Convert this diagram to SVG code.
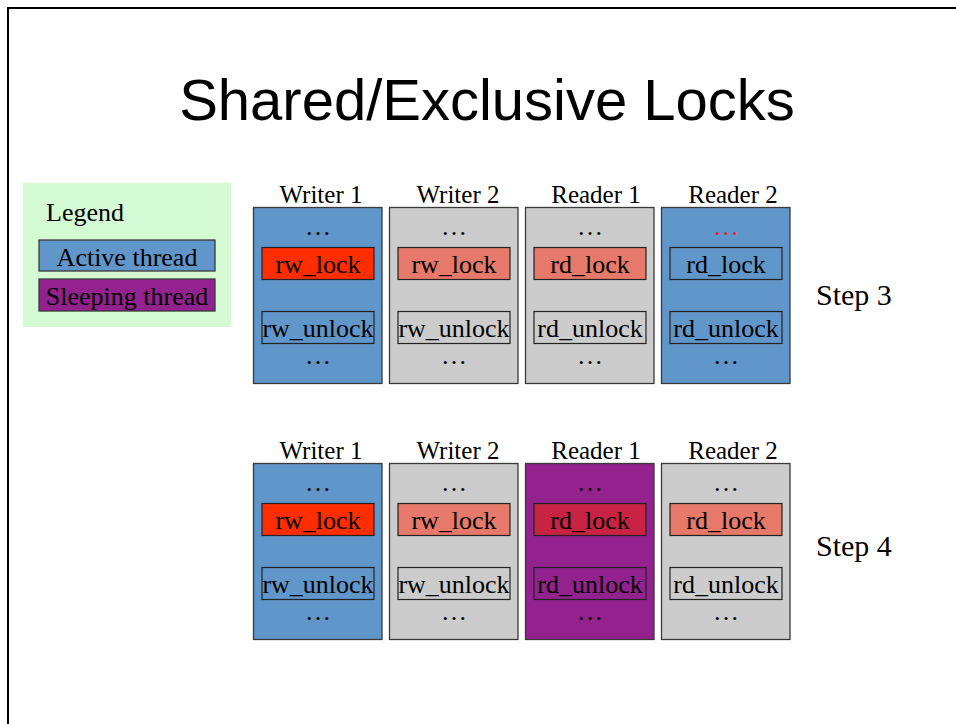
<svg xmlns="http://www.w3.org/2000/svg" width="956" height="724" viewBox="0 0 956 724">
  <style>
    .serif { font-family: "Liberation Serif", "Times New Roman", serif; fill: #000; }
    .title { font-family: "Liberation Sans", Arial, sans-serif; font-size: 58px; fill: #000; }
    .lbl { font-size: 25px; text-anchor: middle; }
    .code { font-size: 26px; text-anchor: middle; }
    .step { font-size: 30px; }
    .leg { font-size: 26px; }
    .thread { stroke: #3a3a3a; stroke-width: 1.3; }
    .call { stroke: #222; stroke-width: 1.2; }
    .active { fill: #6096c9; }
    .idle { fill: #cccccc; }
    .sleep { fill: #93228e; }
    .held { fill: #ff2d00; }
    .wait { fill: #e6796a; }
    .blocked { fill: #c82343; }
    .none { fill: none; }
  </style>

  <rect width="956" height="724" fill="#fff"/>
  <!-- slide frame -->
  <rect x="8" y="8" width="960" height="730" fill="none" stroke="#000" stroke-width="2"/>

  <text class="title" x="487" y="120" text-anchor="middle">Shared/Exclusive Locks</text>

  <!-- legend -->
  <g id="legend">
    <rect x="23" y="183" width="208" height="144" fill="#d4fad4"/>
    <text class="serif leg" x="46" y="221">Legend</text>
    <rect class="thread active" x="39" y="240" width="176" height="31"/>
    <text class="serif leg" x="127" y="266" text-anchor="middle">Active thread</text>
    <rect class="thread sleep" x="39" y="279" width="176" height="32"/>
    <text class="serif leg" x="127" y="305" text-anchor="middle">Sleeping thread</text>
  </g>

  <!-- Step 3 -->
  <g id="step3-writer1">
    <text class="serif lbl" x="321" y="203">Writer 1</text>
    <rect class="thread active" x="253.5" y="207.5" width="128.5" height="176"/>
    <text class="serif code" x="318" y="235">…</text>
    <rect class="call held" x="262" y="247.5" width="112" height="32"/>
    <text class="serif code" x="318" y="273">rw_lock</text>
    <rect class="call none" x="262" y="311.5" width="112" height="32"/>
    <text class="serif code" x="318" y="337">rw_unlock</text>
    <text class="serif code" x="318" y="364">…</text>
  </g>
  <g id="step3-writer2">
    <text class="serif lbl" x="458" y="203">Writer 2</text>
    <rect class="thread idle" x="389.5" y="207.5" width="128.5" height="176"/>
    <text class="serif code" x="454" y="235">…</text>
    <rect class="call wait" x="398" y="247.5" width="112" height="32"/>
    <text class="serif code" x="454" y="273">rw_lock</text>
    <rect class="call none" x="398" y="311.5" width="112" height="32"/>
    <text class="serif code" x="454" y="337">rw_unlock</text>
    <text class="serif code" x="454" y="364">…</text>
  </g>
  <g id="step3-reader1">
    <text class="serif lbl" x="596" y="203">Reader 1</text>
    <rect class="thread idle" x="525.5" y="207.5" width="128.5" height="176"/>
    <text class="serif code" x="590" y="235">…</text>
    <rect class="call wait" x="534" y="247.5" width="112" height="32"/>
    <text class="serif code" x="590" y="273">rd_lock</text>
    <rect class="call none" x="534" y="311.5" width="112" height="32"/>
    <text class="serif code" x="590" y="337">rd_unlock</text>
    <text class="serif code" x="590" y="364">…</text>
  </g>
  <g id="step3-reader2">
    <text class="serif lbl" x="733" y="203">Reader 2</text>
    <rect class="thread active" x="661.5" y="207.5" width="128.5" height="176"/>
    <text class="serif code" x="726" y="235" style="fill:#e8262a">…</text>
    <rect class="call none" x="670" y="247.5" width="112" height="32"/>
    <text class="serif code" x="726" y="273">rd_lock</text>
    <rect class="call none" x="670" y="311.5" width="112" height="32"/>
    <text class="serif code" x="726" y="337">rd_unlock</text>
    <text class="serif code" x="726" y="364">…</text>
  </g>
  <text class="serif step" x="816" y="305">Step 3</text>

  <!-- Step 4 -->
  <g id="step4-writer1">
    <text class="serif lbl" x="321" y="459">Writer 1</text>
    <rect class="thread active" x="253.5" y="463.5" width="128.5" height="176"/>
    <text class="serif code" x="318" y="491">…</text>
    <rect class="call held" x="262" y="503.5" width="112" height="32"/>
    <text class="serif code" x="318" y="529">rw_lock</text>
    <rect class="call none" x="262" y="567.5" width="112" height="32"/>
    <text class="serif code" x="318" y="593">rw_unlock</text>
    <text class="serif code" x="318" y="620">…</text>
  </g>
  <g id="step4-writer2">
    <text class="serif lbl" x="458" y="459">Writer 2</text>
    <rect class="thread idle" x="389.5" y="463.5" width="128.5" height="176"/>
    <text class="serif code" x="454" y="491">…</text>
    <rect class="call wait" x="398" y="503.5" width="112" height="32"/>
    <text class="serif code" x="454" y="529">rw_lock</text>
    <rect class="call none" x="398" y="567.5" width="112" height="32"/>
    <text class="serif code" x="454" y="593">rw_unlock</text>
    <text class="serif code" x="454" y="620">…</text>
  </g>
  <g id="step4-reader1">
    <text class="serif lbl" x="596" y="459">Reader 1</text>
    <rect class="thread sleep" x="525.5" y="463.5" width="128.5" height="176"/>
    <text class="serif code" x="590" y="491">…</text>
    <rect class="call blocked" x="534" y="503.5" width="112" height="32"/>
    <text class="serif code" x="590" y="529">rd_lock</text>
    <rect class="call none" x="534" y="567.5" width="112" height="32"/>
    <text class="serif code" x="590" y="593">rd_unlock</text>
    <text class="serif code" x="590" y="620">…</text>
  </g>
  <g id="step4-reader2">
    <text class="serif lbl" x="733" y="459">Reader 2</text>
    <rect class="thread idle" x="661.5" y="463.5" width="128.5" height="176"/>
    <text class="serif code" x="726" y="491">…</text>
    <rect class="call wait" x="670" y="503.5" width="112" height="32"/>
    <text class="serif code" x="726" y="529">rd_lock</text>
    <rect class="call none" x="670" y="567.5" width="112" height="32"/>
    <text class="serif code" x="726" y="593">rd_unlock</text>
    <text class="serif code" x="726" y="620">…</text>
  </g>
  <text class="serif step" x="816" y="556">Step 4</text>

  <!-- no connectors in this figure -->
  <g id="connectors"/>
</svg>
